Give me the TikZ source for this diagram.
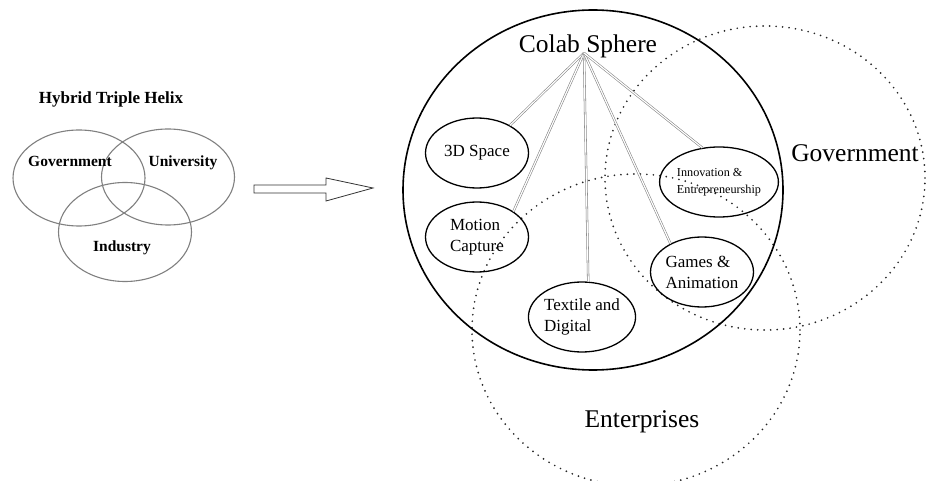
\documentclass[tikz,border=0pt]{standalone}
\usepackage{fontspec}
\setmainfont{Liberation Serif}
\usetikzlibrary{shapes.geometric}
\begin{document}
\begin{tikzpicture}[x=1pt,y=-1pt,
  venn/.style={ellipse, draw=black!50, line width=1.1pt, inner sep=0pt},
  sub/.style={ellipse, draw=black, line width=1.3pt, minimum width=103pt, minimum height=70pt, inner sep=0pt, align=left, font=\fontsize{17}{21}\selectfont},
  conn/.style={draw=black!50, double=white, double distance=1.2pt, line width=0.55pt},
  dots/.style={ellipse, draw=black!85, line width=1.9pt, dash pattern=on 0pt off 6.5pt, line cap=round, inner sep=0pt},
  biglabel/.style={anchor=base, font=\fontsize{25.5}{30}\selectfont},
  vennlabel/.style={anchor=base, font=\bfseries\fontsize{15.5}{18}\selectfont},
]
\fill[white] (0,0) rectangle (927,481);
\useasboundingbox (0,0) rectangle (927,481);
\clip (0,0) rectangle (927,481);

% left: hybrid triple helix
\node[anchor=base, font=\bfseries\fontsize{17}{20}\selectfont] (title) at (111,104) {Hybrid Triple Helix};
\node[venn, minimum width=132pt, minimum height=96pt] (vg) at (79,178) {};
\node[venn, minimum width=133pt, minimum height=96pt] (vu) at (168,177) {};
\node[venn, minimum width=133pt, minimum height=99pt] (vi) at (125,232) {};
\node[vennlabel] (lg) at (70,167) {Government};
\node[vennlabel] (lu) at (183,167) {University};
\node[vennlabel] (li) at (122,252) {Industry};

% block arrow
\draw[line width=0.8pt, draw=black!80, fill=white] (254,185) -- (326,185) -- (326,178) -- (373,188) -- (326,201) -- (326,193) -- (254,193) -- cycle;

% dotted spheres
\node[dots, minimum width=320pt, minimum height=304pt] (gov) at (765,178) {};
\node[dots, minimum width=328pt, minimum height=312pt] (ent) at (636,330) {};

% colab sphere
\node[ellipse, draw=black, line width=1.6pt, minimum width=380pt, minimum height=360pt, inner sep=0pt] (colab) at (593,190) {};
\node[biglabel] (ctitle) at (588,53) {Colab Sphere};
\coordinate (hub) at (584,53);

\node[sub] (sp) at (477,153) {3D Space};
\node[sub] (mc) at (477,237) {Motion\\Capture};
\node[sub] (tx) at (582,317) {Textile and\\Digital};
\node[sub] (ga) at (702,272) {Games \&\\Animation};
\node[sub, font=\fontsize{12.2}{17}\selectfont] (inn) at (719,182) {Innovation \&\\Entrepreneurship};

\draw[conn] (hub) -- (sp.40);
\draw[conn] (hub) -- (mc.35);
\draw[conn] (hub) -- (tx.80);
\draw[conn] (hub) -- (ga.138);
\draw[conn] (hub) -- (inn.116);

\node[biglabel] (lgov) at (855,162) {Government};
\node[biglabel] (lent) at (642,427) {Enterprises};
\end{tikzpicture}
\end{document}
